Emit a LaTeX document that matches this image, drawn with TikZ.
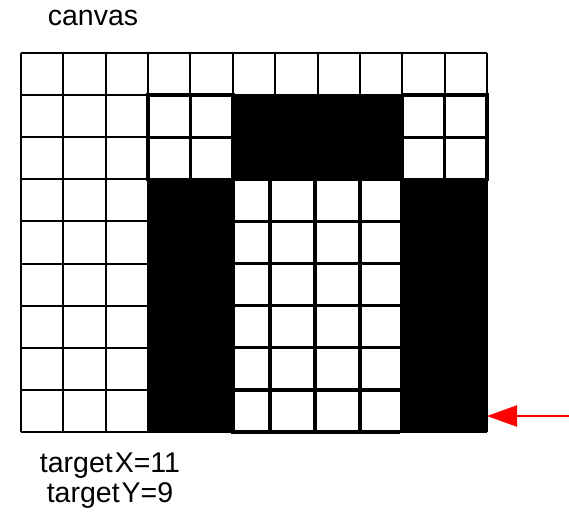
\documentclass[tikz,border=0pt]{standalone}
\usepackage{fontspec}
\setmainfont{Liberation Sans}
\usetikzlibrary{arrows.meta}
\tikzset{
  gl/.style={line width=2pt, black},
  thk/.style={line width=3.4pt, black},
  blk/.style={fill=black, draw=none},
  lbl/.style={font=\fontsize{28.5}{32}\selectfont, inner sep=0pt, anchor=base},
  pointer/.style={red, line width=2.4pt, -{Triangle[length=30pt,width=21pt]}}
}
\begin{document}
\begin{tikzpicture}[x=1pt,y=-1pt]
\useasboundingbox (0,0) rectangle (569,511);
% grid
\foreach \i in {0,1,2,3,4,5,9,10,11} \draw[gl] ({21+42.36*\i},53) -- ({21+42.36*\i},432);
\foreach \i in {6,7,8} \draw[gl] ({21+42.36*\i},53) -- ({21+42.36*\i},95);
\foreach \j in {0,...,9} \draw[gl] (21,{53+42.1*\j}) -- (487,{53+42.1*\j});
% thick borders of small white blocks (rows 1-2)
\foreach \i in {3,4,9,10} \foreach \j in {1,2}
  \draw[thk] ({21+42.36*\i},{53+42.1*\j}) rectangle ({21+42.36*(\i+1)},{53+42.1*(\j+1)});
% thick inner grid (cols 5-8, rows 3-8)
\foreach \xx in {270,315,360} \draw[thk] (\xx,180) -- (\xx,432);
\foreach \j in {4,...,9} \draw[thk] (231,{53+42.1*\j}) -- (400,{53+42.1*\j});
% black regions
\fill[blk] (231,95) rectangle (401,181);
\fill[blk] (147,180) rectangle (235,433);
\fill[blk] (400,180) rectangle (487,433);
% labels
\node[lbl] (canvaslabel) at (93,26) {canvas};
\node[lbl] (tx) at (110,472) {target\hspace{2pt}X=11};
\node[lbl] (ty) at (110,502) {target\hspace{2pt}Y=9};
% arrow
\coordinate (arrowstart) at (569,416);
\coordinate (arrowtip) at (487,416);
\draw[pointer] (arrowstart) -- (arrowtip);
\end{tikzpicture}
\end{document}
